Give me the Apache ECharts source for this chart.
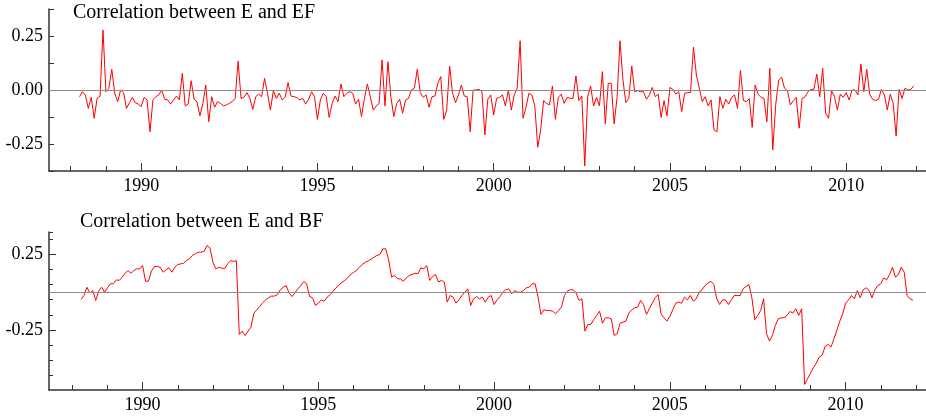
<!DOCTYPE html>
<html><head><meta charset="utf-8">
<script src="https://cdn.jsdelivr.net/npm/echarts@6/dist/echarts.min.js"></script>
<style>html,body{margin:0;padding:0;background:#fff}#c{width:926px;height:418px}</style>
</head><body><div id="c"></div><script>
// Monthly data, April 1988 .. December 2011
const startYear = 1988;
const startMonth = 4;
const efCorr = [
-0.031,-0.008,-0.023,-0.085,-0.034,-0.131,-0.039,-0.028,0.278,-0.008,
0.008,0.096,-0.015,-0.054,0.0,-0.012,-0.085,-0.059,-0.034,-0.059,
-0.065,-0.077,-0.034,-0.046,-0.193,-0.046,-0.031,-0.023,0.0,-0.043,
-0.046,-0.065,-0.046,-0.028,-0.046,0.077,-0.074,-0.065,0.043,-0.043,
-0.054,-0.12,-0.062,0.023,-0.147,-0.031,-0.08,-0.054,-0.062,-0.074,
-0.069,-0.062,-0.054,-0.039,0.134,-0.039,-0.034,-0.012,-0.039,-0.09,
-0.031,-0.019,-0.031,0.054,-0.015,-0.093,
-0.003,-0.039,-0.015,-0.046,
-0.034,0.034,-0.028,-0.031,-0.035,-0.046,-0.039,-0.065,-0.043,-0.008,
-0.031,-0.136,-0.046,-0.015,-0.031,-0.127,-0.062,-0.028,-0.054,0.028,
-0.031,-0.015,-0.008,-0.015,-0.065,-0.043,-0.123,-0.039,0.028,-0.031,
-0.093,-0.074,-0.062,0.139,-0.074,0.131,-0.031,-0.123,-0.062,-0.043,
-0.108,-0.046,-0.039,0.0,0.008,0.096,-0.012,-0.034,-0.023,-0.08,
-0.031,-0.028,0.031,0.062,-0.136,-0.093,0.111,-0.015,-0.059,-0.023,
0.023,-0.028,-0.031,-0.193,0.0,0.0,0.003,-0.008,-0.208,
-0.043,-0.023,-0.116,-0.039,-0.034,-0.023,-0.074,0.0,-0.093,-0.023,0.008,
0.228,-0.131,-0.08,-0.015,-0.023,-0.074,-0.265,-0.185,-0.049,-0.062,
-0.069,0.019,-0.136,-0.034,-0.019,-0.062,-0.034,-0.039,-0.039,0.065,
-0.049,-0.028,-0.352,-0.031,0.019,-0.074,-0.034,-0.074,0.085,-0.157,
0.031,0.031,-0.157,-0.034,0.228,0.046,-0.059,-0.039,0.111,-0.008,
-0.003,-0.008,-0.008,-0.043,-0.023,0.012,-0.031,-0.019,-0.127,-0.049,
-0.12,0.012,0.003,-0.019,-0.008,-0.1,-0.015,-0.012,-0.012,0.198,
0.069,0.008,-0.054,-0.031,-0.074,
-0.046,-0.185,-0.193,-0.031,-0.085,-0.043,-0.065,-0.034,-0.023,-0.085,
0.09,-0.049,-0.054,-0.04,-0.173,0.023,-0.019,-0.034,-0.039,-0.147,
0.1,-0.278,-0.069,0.046,0.059,0.008,-0.003,-0.069,-0.049,-0.034,
-0.177,-0.039,-0.031,-0.008,0.003,0.003,0.074,-0.031,0.1,-0.108,
-0.131,-0.003,-0.031,-0.093,-0.019,-0.034,-0.012,-0.046,0.0,0.0,
-0.023,0.12,-0.008,0.096,-0.019,-0.043,-0.049,-0.043,0.003,-0.023,
-0.093,-0.019,-0.062,-0.213,0.003,-0.039,0.008,0.0,0.003,0.019
];
const bfCorr = [
-0.048,-0.022,0.033,-0.006,0.011,-0.055,0.007,0.033,0.0,0.029,
0.056,0.056,0.082,0.078,0.1,0.126,0.144,0.126,0.144,0.155,
0.155,0.177,0.073,0.073,0.14,0.171,0.171,0.166,0.133,0.149,
0.162,0.133,0.166,0.184,0.188,0.193,0.21,0.222,0.244,0.255,
0.266,0.266,0.272,0.31,0.295,0.199,0.155,0.166,0.16,0.155,
0.188,0.21,0.204,0.21,-0.281,-0.259,-0.288,-0.259,-0.232,-0.139,
-0.117,-0.095,-0.07,-0.051,-0.037,-0.026,-0.026,-0.017,0.016,0.033,
0.044,-0.006,-0.029,-0.004,0.022,0.044,0.071,0.056,-0.029,-0.037,
-0.088,-0.073,-0.051,-0.06,-0.033,-0.017,0.007,0.027,0.049,0.064,
0.078,0.095,0.117,0.131,0.144,0.166,0.184,0.199,0.208,0.219,
0.233,0.244,0.25,0.288,0.288,0.215,0.1,0.111,0.089,0.089,
0.073,0.095,0.111,0.117,0.126,0.122,0.162,0.155,0.177,0.078,
0.104,0.117,0.067,0.078,0.067,-0.066,-0.022,-0.033,-0.073,-0.051,
-0.022,0.0,0.022,-0.088,-0.044,-0.029,-0.044,-0.033,-0.066,-0.033,
-0.022,-0.082,-0.051,-0.029,0.0,0.016,0.022,-0.011,0.011,0.0,
0.0,0.011,0.029,0.033,0.056,0.056,-0.033,-0.148,-0.117,-0.122,
-0.122,-0.126,-0.144,-0.122,-0.099,-0.022,0.007,0.016,0.016,-0.006,
-0.055,-0.044,-0.259,-0.215,-0.215,-0.183,-0.155,-0.126,-0.206,-0.17,
-0.17,-0.177,-0.288,-0.276,-0.206,-0.199,-0.192,-0.139,-0.117,-0.104,
-0.099,-0.055,-0.082,-0.148,-0.11,-0.073,-0.037,-0.015,-0.144,-0.17,
-0.192,-0.161,-0.117,-0.073,-0.066,-0.073,-0.033,-0.051,-0.022,-0.06,
-0.044,0.0,0.016,0.044,0.06,0.073,0.051,-0.044,-0.082,-0.051,
-0.051,-0.082,-0.051,-0.022,-0.022,-0.022,0.022,0.038,0.051,-0.037,
-0.183,-0.155,-0.122,-0.044,-0.276,-0.325,-0.288,-0.221,-0.177,-0.17,
-0.17,-0.155,-0.128,-0.139,-0.11,-0.155,-0.11,-0.613,-0.575,-0.538,
-0.502,-0.471,-0.431,-0.42,-0.36,-0.347,-0.365,-0.31,-0.254,-0.193,
-0.144,-0.073,-0.051,-0.022,-0.044,0.011,-0.037,0.016,0.029,0.011,
-0.037,0.016,0.044,0.056,0.095,0.082,0.117,0.166,0.1,0.117,
0.166,0.133,-0.022,-0.044,-0.055
];
const titles = ['Correlation between E and EF', 'Correlation between E and BF'];
const xLabelYears = [1990, 1995, 2000, 2005, 2010];
const yearTicks = [1988,1989,1990,1991,1992,1993,1994,1995,1996,1997,1998,1999,2000,2001,2002,2003,2004,2005,2006,2007,2008,2009,2010,2011,2012];
const topYLabels = [-0.25, 0, 0.25];
const topYTicks = [-0.375, -0.25, -0.125, 0, 0.125, 0.25, 0.375];
const botYLabels = [-0.25, 0.25];
const botYTicks = [0.4, 0.35, 0.25, 0.15, 0.05, -0.05, -0.15, -0.25, -0.35, -0.45, -0.55];

function toPairs(vals) {
  return vals.map((v, i) => [startYear + (startMonth - 1 + i) / 12, v]);
}

const FONT = '"Liberation Serif", "Times New Roman", serif';
const AX = '#333';
const chart = echarts.init(document.getElementById('c'), null, {renderer: 'canvas'});

function xMinor(grid, min, max) {
  return {
    gridIndex: grid, type: 'value', min: min, max: max, position: 'bottom',
    axisLine: {show: true, onZero: false, lineStyle: {color: AX, width: 1.5}},
    axisTick: {show: true, inside: true, length: 5, customValues: yearTicks, lineStyle: {color: AX, width: 1}},
    axisLabel: {show: true, customValues: xLabelYears, margin: 6, fontFamily: FONT, fontSize: 18, color: '#000',
      formatter: v => String(Math.round(v))},
    splitLine: {show: false}
  };
}
function xMajor(grid, min, max) {
  return {
    gridIndex: grid, type: 'value', min: min, max: max, position: 'bottom', offset: 0,
    axisLine: {show: false, onZero: false},
    axisTick: {show: true, inside: true, length: 8, customValues: xLabelYears, lineStyle: {color: AX, width: 1}},
    axisLabel: {show: false},
    splitLine: {show: false}
  };
}

const zeroLine = {
  silent: true, symbol: 'none', label: {show: false},
  lineStyle: {color: '#8c8c8c', type: 'solid', width: 1},
  data: [{yAxis: 0}], animation: false
};

chart.setOption({
  animation: false,
  backgroundColor: '#fff',
  grid: [
    {left: 49, top: 9, width: 877, height: 162},
    {left: 49, top: 232, width: 877, height: 158}
  ],
  xAxis: [
    xMinor(0, 1987.385, 2012.264),
    xMajor(0, 1987.385, 2012.264),
    xMinor(1, 1987.337, 2012.287),
    xMajor(1, 1987.337, 2012.287)
  ],
  yAxis: [
    {
      gridIndex: 0, type: 'value', min: -0.375, max: 0.375, interval: 0.125, position: 'left',
      axisLine: {show: true, onZero: false, lineStyle: {color: AX, width: 1.5}},
      axisTick: {show: true, inside: true, length: 5, customValues: topYTicks, lineStyle: {color: AX, width: 1}},
      axisLabel: {customValues: topYLabels, margin: 6, fontFamily: FONT, fontSize: 18, color: '#000',
        formatter: v => (Math.abs(v) < 1e-9 ? 0 : v).toFixed(2)},
      splitLine: {show: false}
    },
    {
      gridIndex: 1, type: 'value', min: -0.65, max: 0.40, position: 'left',
      axisLine: {show: true, onZero: false, lineStyle: {color: AX, width: 1.5}},
      axisTick: {show: true, inside: true, length: 4, customValues: botYTicks, lineStyle: {color: AX, width: 1}},
      axisLabel: {customValues: botYLabels, margin: 6, fontFamily: FONT, fontSize: 18, color: '#000',
        formatter: v => v.toFixed(2)},
      splitLine: {show: false}
    },
    {
      gridIndex: 1, type: 'value', min: -0.65, max: 0.40, position: 'left', offset: 0,
      axisLine: {show: false, onZero: false},
      axisTick: {show: true, inside: true, length: 7, customValues: botYLabels, lineStyle: {color: AX, width: 1}},
      axisLabel: {show: false},
      splitLine: {show: false}
    }
  ],
  graphic: [
    {type: 'text', left: 73, top: 3, style: {text: titles[0], fontFamily: FONT, fontSize: 20, fill: '#000'}},
    {type: 'text', left: 80, top: 212, style: {text: titles[1], fontFamily: FONT, fontSize: 20, fill: '#000'}}
  ],
  series: [
    {
      type: 'line', xAxisIndex: 0, yAxisIndex: 0, data: toPairs(efCorr),
      showSymbol: false, symbol: 'none', lineStyle: {color: '#ff0000', width: 1}, itemStyle: {color: '#ff0000'},
      markLine: zeroLine, z: 3
    },
    {
      type: 'line', xAxisIndex: 2, yAxisIndex: 1, data: toPairs(bfCorr),
      showSymbol: false, symbol: 'none', lineStyle: {color: '#ff0000', width: 1}, itemStyle: {color: '#ff0000'},
      markLine: zeroLine, z: 3
    }
  ]
});
</script></body></html>
